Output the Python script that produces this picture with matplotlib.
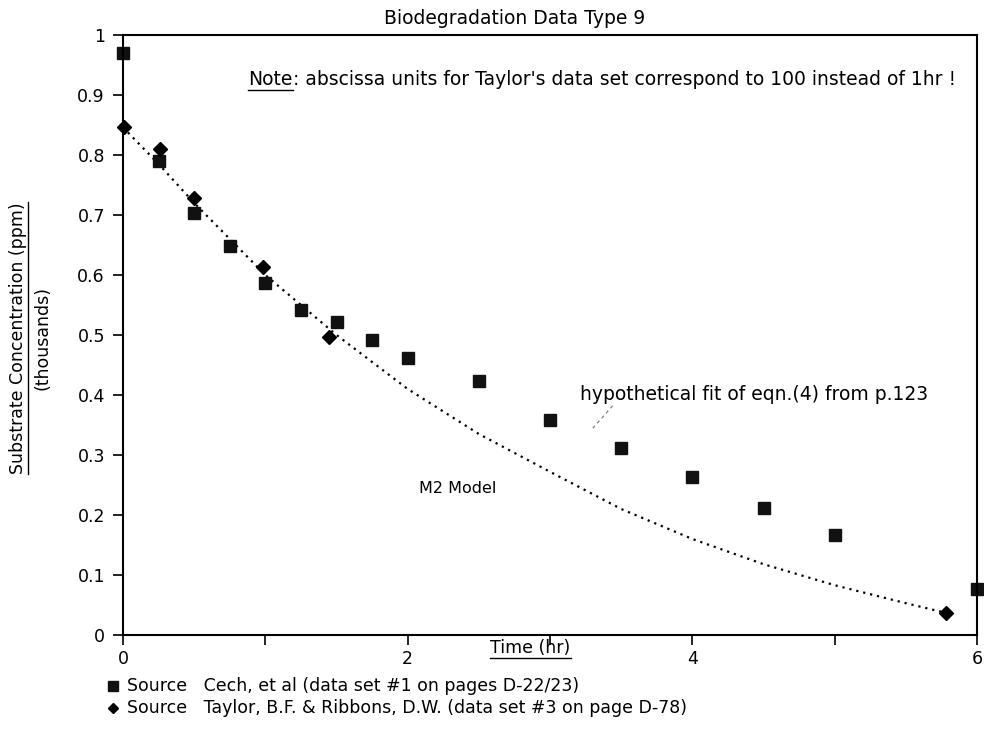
import matplotlib
matplotlib.use("Agg")
import matplotlib.pyplot as plt
from matplotlib.lines import Line2D

# Cech et al. data set #1 (time in hr, concentration in thousands of ppm)
cech_time = [0, 0.25, 0.5, 0.75, 1.0, 1.25, 1.5, 1.75, 2.0, 2.5, 3.0, 3.5, 4.0, 4.5, 5.0, 6.0]
cech_conc = [0.97, 0.79, 0.703, 0.649, 0.586, 0.542, 0.522, 0.491, 0.462, 0.424, 0.359, 0.311, 0.264, 0.211, 0.167, 0.077]

# Taylor & Ribbons data set #3 (abscissa in units of 100)
taylor_time = [0.01, 0.26, 0.5, 0.98, 1.45, 5.78]
taylor_conc = [0.846, 0.81, 0.729, 0.613, 0.497, 0.037]

# M2 model curve
model_time = [0, 0.25, 0.5, 0.75, 1.0, 1.5, 2.0, 2.5, 3.0, 3.5, 4.0, 4.5, 5.0, 5.5, 5.78]
model_conc = [0.846, 0.785, 0.72, 0.66, 0.6, 0.5, 0.41, 0.335, 0.272, 0.21, 0.16, 0.118, 0.083, 0.053, 0.037]

x_ticks = [0, 1, 2, 3, 4, 5, 6]
x_labels = ["0", "", "2", "", "4", "", "6"]
y_ticks = [0, 0.1, 0.2, 0.3, 0.4, 0.5, 0.6, 0.7, 0.8, 0.9, 1]
y_labels = ["0", "0.1", "0.2", "0.3", "0.4", "0.5", "0.6", "0.7", "0.8", "0.9", "1"]

plt.rcParams["font.family"] = ["DejaVu Sans"]
plt.rcParams["font.size"] = 12

fig = plt.figure(figsize=(9.84, 7.39), dpi=100)
ax = fig.add_axes([0.125, 0.1407, 0.868, 0.812])

ax.plot(model_time, model_conc, linestyle=(0, (1, 2.2)), color="black", linewidth=1.6)
ax.plot(cech_time, cech_conc, "s", color="#111111", markersize=8, clip_on=False)
ax.plot(taylor_time, taylor_conc, "D", color="black", markersize=7, clip_on=False)

ax.set_xlim(0, 6)
ax.set_ylim(0, 1)
ax.set_xticks(x_ticks)
ax.set_xticklabels(x_labels)
ax.set_yticks(y_ticks)
ax.set_yticklabels(y_labels)
ax.tick_params(direction="out", length=7, width=1.2, labelsize=12.5, color="black")
ax.tick_params(axis="x", pad=4)
ax.tick_params(axis="y", pad=6)
for s in ax.spines.values():
    s.set_linewidth(1.5)

ax.set_title("Biodegradation Data Type 9", fontsize=13.5, pad=8, x=0.458)

note = ax.text(0.88, 0.925, "Note", fontsize=13.5, va="center", ha="left")
ax.annotate(": abscissa units for Taylor's data set correspond to 100 instead of 1hr !",
            xy=(1, 0.5), xycoords=note, va="center", ha="left", fontsize=13.5)
ax.text(2.08, 0.245, "M2 Model", fontsize=11.5, va="center", ha="left")
ax.text(3.21, 0.40, "hypothetical fit of eqn.(4) from p.123", fontsize=13.5, va="center", ha="left")
ax.plot([3.44, 3.29], [0.382, 0.342], color="#777777", linewidth=0.8, linestyle=(0, (3, 3)))

xlab = fig.text(0.539, 0.123, "Time (hr)", fontsize=12.5, ha="center", va="center")
ylab1 = fig.text(0.018, 0.543, "Substrate Concentration (ppm)", fontsize=12.5,
                 rotation=90, ha="center", va="center")
ylab2 = fig.text(0.043, 0.543, "(thousands)", fontsize=12.5,
                 rotation=90, ha="center", va="center")

# legend rows below the axes
fig.add_artist(Line2D([0.115], [0.072], marker="s", color="#111111", markersize=6.5,
                      transform=fig.transFigure))
fig.add_artist(Line2D([0.115], [0.042], marker="D", color="black", markersize=5.5,
                      transform=fig.transFigure))
fig.text(0.129, 0.072, "Source   Cech, et al (data set #1 on pages D-22/23)",
         fontsize=12.5, va="center", ha="left")
fig.text(0.129, 0.042, "Source   Taylor, B.F. & Ribbons, D.W. (data set #3 on page D-78)",
         fontsize=12.5, va="center", ha="left")

# underline some labels
fig.canvas.draw()
r = fig.canvas.get_renderer()
inv = fig.transFigure.inverted()


def underline(t, vertical=False):
    bb = t.get_window_extent(r)
    if vertical:
        (x0, y0), (x1, y1) = inv.transform([(bb.x1 + 1, bb.y0), (bb.x1 + 1, bb.y1)])
    else:
        (x0, y0), (x1, y1) = inv.transform([(bb.x0, bb.y0 - 1), (bb.x1, bb.y0 - 1)])
    fig.add_artist(Line2D([x0, x1], [y0, y1], color="black", linewidth=1.0,
                          transform=fig.transFigure))


underline(note)
underline(xlab)
underline(ylab1, vertical=True)

fig.savefig("out.png", dpi=100)
